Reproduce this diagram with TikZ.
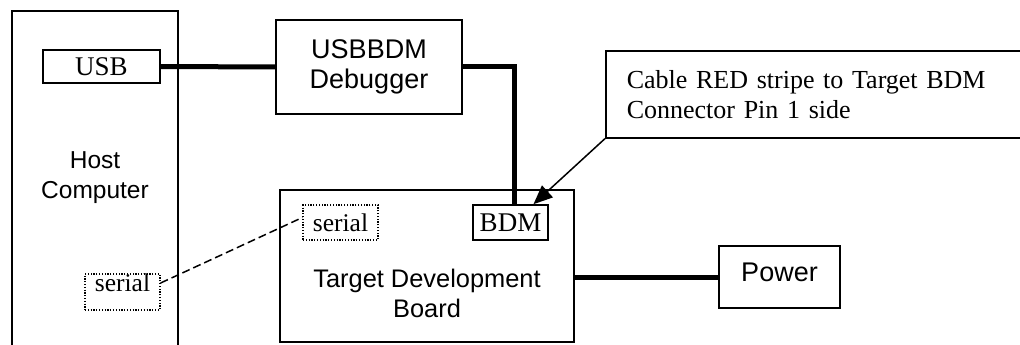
\documentclass[tikz,border=0pt]{standalone}
\usepackage{fontspec}
\setmainfont{Liberation Serif}
\newfontfamily\arialfont{Liberation Sans}
\usetikzlibrary{calc,arrows.meta}

\begin{document}
\begin{tikzpicture}[x=1pt,y=-1pt,
 box/.style={draw,line width=1.6pt,inner sep=0pt},
 dotbox/.style={draw,line width=1.2pt,dash pattern=on 1.2pt off 1.6pt,inner sep=0pt},
 sans/.style={font=\arialfont\fontsize{#1}{30}\selectfont,align=center},
 sans/.default=24.5,
 serif/.style={font=\fontsize{#1}{30}\selectfont},
 serif/.default=25.5,
 cable/.style={line width=5pt}]

\clip (0,0) rectangle (1020,345);

\begin{scope} %host
 \node[sans,inner sep=0pt,minimum width=166pt,minimum height=334pt] (host) at (95,178) {Host\\Computer};
 \draw[line width=1.6pt] (host.south west) |- (host.north east) -- (host.south east);
 \node[box,serif=27,minimum width=117pt,text height=25pt,text depth=8pt] (usb) at (101.5,66.5) {USB};
 \node[dotbox,serif,minimum width=75pt,text height=17pt,text depth=19pt] (hser) at (122.5,292) {serial};
\end{scope}

\begin{scope} %debugger
 \node[box,sans=27,minimum width=186pt,minimum height=94pt] (dbg) at (369,67) {USBBDM\\Debugger};
\end{scope}

\begin{scope} %board
 \node[box,minimum width=294pt,minimum height=152pt] (board) at (427,266) {};
 \node[sans=25.4,inner sep=0pt] (boardlbl) at (427,293) {Target Development\\Board};
 \node[dotbox,serif,minimum width=75pt,text height=26.7pt,text depth=8.3pt] (bser) at (340.5,222.5) {serial};
 \node[box,serif=27,minimum width=75pt,text height=26.7pt,text depth=8.3pt] (bdm) at (510.5,222.5) {BDM};
\end{scope}

\node[box,sans=27,minimum width=121pt,text height=35.5pt,text depth=26.5pt] (power) at (779.5,277) {Power};

\node[box,serif=26,anchor=north west,align=left,text width=420pt,inner xsep=21pt,minimum height=87pt] (note) at (605,50)
 {Cable RED stripe to Target BDM\\Connector Pin 1 side};

% cables
\draw[cable] (usb.east) -- (dbg.west);
\draw[cable] (dbg.east) -| ($(bdm.north)+(3.5,0)$);
\draw[cable] (board.east |- power.west) -- (power.west);
\draw[line width=1.5pt,dash pattern=on 8pt off 4pt] ([yshift=9pt]hser.east) -- ([yshift=5pt]bser.west);
\draw[line width=1.5pt,-{Triangle[length=19pt,width=16pt]}] (note.south west) -- ($(bdm.north east)!0.4!(bdm.north)$);

\end{tikzpicture}
\end{document}
